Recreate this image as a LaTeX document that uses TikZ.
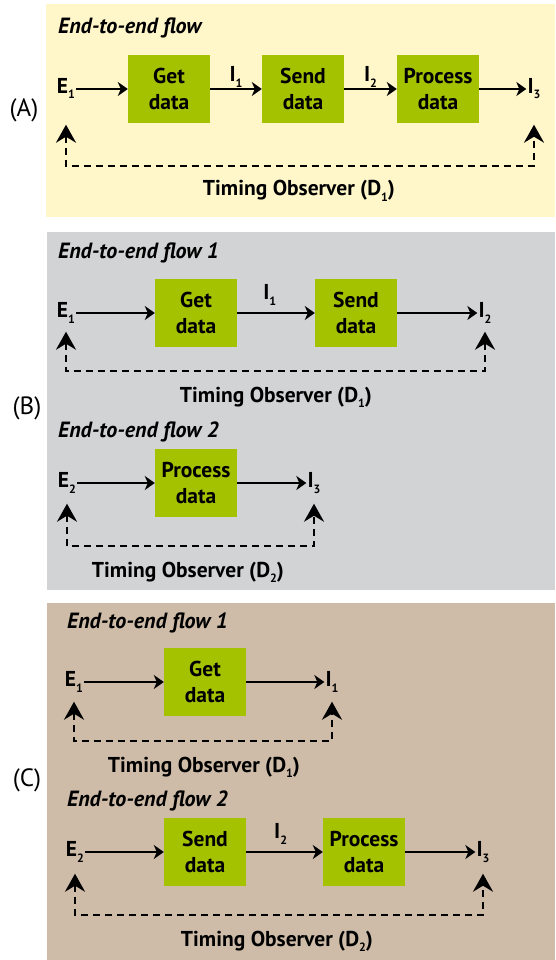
\documentclass[tikz,border=0pt]{standalone}
\usepackage{fontspec}
\setmainfont{PT Sans}
\usetikzlibrary{arrows.meta,positioning}
\definecolor{panelA}{RGB}{255,247,202}
\definecolor{panelB}{RGB}{209,211,212}
\definecolor{panelC}{RGB}{206,188,168}
\definecolor{taskgreen}{RGB}{164,194,0}
\newcommand{\sbs}[1]{\raisebox{-5.5pt}{\fontsize{12}{12}\selectfont #1}}

\begin{document}
\begin{tikzpicture}[x=1pt,y=-1pt,
  font=\fontsize{21.5}{26}\selectfont\bfseries,
  task/.style={fill=taskgreen,minimum width=82pt,minimum height=68pt,align=center,inner sep=0pt},
  port/.style={inner sep=1pt,text height=15pt,text depth=6pt},
  lbl/.style={inner sep=0pt,text depth=5pt},
  flow/.style={line width=2.4pt,-{Stealth[length=10pt,width=14pt,inset=3pt]}},
  watch/.style={line width=2.4pt,dash pattern=on 7pt off 5pt,
    {Stealth[length=18pt,width=20pt,inset=6pt]}-{Stealth[length=18pt,width=20pt,inset=6pt]}},
  heading/.style={anchor=base west,inner sep=0pt,font=\fontsize{22}{24}\selectfont\bfseries\itshape},
  observer/.style={anchor=base,inner sep=0pt},
  case/.style={inner sep=0pt,font=\fontsize{25}{26}\selectfont}]
\useasboundingbox (0,0) rectangle (555,960);

% (A) one flow
\fill[panelA] (46,4) rectangle (555,217);
\node[case] (caseA) at (24,110) {(A)};
\node[heading] (titleA) at (58,34) {End-to-end flow};
\node[port] (eA) at (66,89) {E\sbs{1}};
\node[task] (getA) at (169,89) {Get\\data};
\node[task] (sendA) at (303,89) {Send\\data};
\node[task] (procA) at (438,89) {Process\\data};
\node[port] (iA) at (534,89) {I\sbs{3}};
\draw[flow] (eA) -- (getA);
\draw[flow] (getA) -- node[lbl,above=1pt] (iA1) {I\sbs{1}} (sendA);
\draw[flow] (sendA) -- node[lbl,above=1pt] (iA2) {I\sbs{2}} (procA);
\draw[flow] (procA) -- (iA);
\coordinate (dA) at (300,166);
\draw[watch,shorten <=24pt,shorten >=24pt] (eA) |- (dA) -| (iA);
\node[observer] (obsA) at (299,196) {Timing Observer (D\sbs{1})};

% (B) two flows
\fill[panelB] (47,232) rectangle (555,590);
\node[case] (caseB) at (27,408) {(B)};
\node[heading] (titleB1) at (58,258) {End-to-end flow 1};
\node[port] (eB1) at (66,313) {E\sbs{1}};
\node[task] (getB) at (196,313) {Get\\data};
\node[task] (sendB) at (356,313) {Send\\data};
\node[port] (iB2) at (485,313) {I\sbs{2}};
\draw[flow] (eB1) -- (getB);
\draw[flow] (getB) -- node[lbl,above=7pt,pos=0.42] (iB1) {I\sbs{1}} (sendB);
\draw[flow] (sendB) -- (iB2);
\coordinate (dB1) at (270,371);
\draw[watch,shorten <=7pt,shorten >=7pt] (eB1) |- (dB1) -| (iB2);
\node[observer] (obsB1) at (276,402) {Timing Observer (D\sbs{1})};

\node[heading] (titleB2) at (58,437) {End-to-end flow 2};
\node[port] (eB2) at (67,483) {E\sbs{2}};
\node[task] (procB) at (196,483) {Process\\data};
\node[port] (iB3) at (314,483) {I\sbs{3}};
\draw[flow] (eB2) -- (procB);
\draw[flow] (procB) -- (iB3);
\coordinate (dB2) at (190,546);
\draw[watch,shorten <=9pt,shorten >=9pt] (eB2) |- (dB2) -| (iB3);
\node[observer] (obsB2) at (188,577) {Timing Observer (D\sbs{2})};

% (C) two flows, split the other way
\fill[panelC] (47,603) rectangle (555,960);
\node[case] (caseC) at (27,780) {(C)};
\node[heading] (titleC1) at (67,628) {End-to-end flow 1};
\node[port] (eC1) at (74,682) {E\sbs{1}};
\node[task] (getC) at (205,682) {Get\\data};
\node[port] (iC1) at (332,682) {I\sbs{1}};
\draw[flow] (eC1) -- (getC);
\draw[flow] (getC) -- (iC1);
\coordinate (dC1) at (200,741);
\draw[watch,shorten <=8pt,shorten >=8pt] (eC1) |- (dC1) -| (iC1);
\node[observer] (obsC1) at (204,772) {Timing Observer (D\sbs{1})};

\node[heading] (titleC2) at (67,806) {End-to-end flow 2};
\node[port] (eC2) at (75,852) {E\sbs{2}};
\node[task] (sendC) at (205,852) {Send\\data};
\node[task] (procC) at (364,852) {Process\\data};
\node[port] (iC3) at (483,852) {I\sbs{3}};
\draw[flow] (eC2) -- (sendC);
\draw[flow] (sendC) -- node[lbl,above=7pt,pos=0.45] (iC2) {I\sbs{2}} (procC);
\draw[flow] (procC) -- (iC3);
\coordinate (dC2) at (280,915);
\draw[watch,shorten <=10pt,shorten >=10pt] (eC2) |- (dC2) -| (iC3);
\node[observer] (obsC2) at (277,946) {Timing Observer (D\sbs{2})};
\end{tikzpicture}
\end{document}
